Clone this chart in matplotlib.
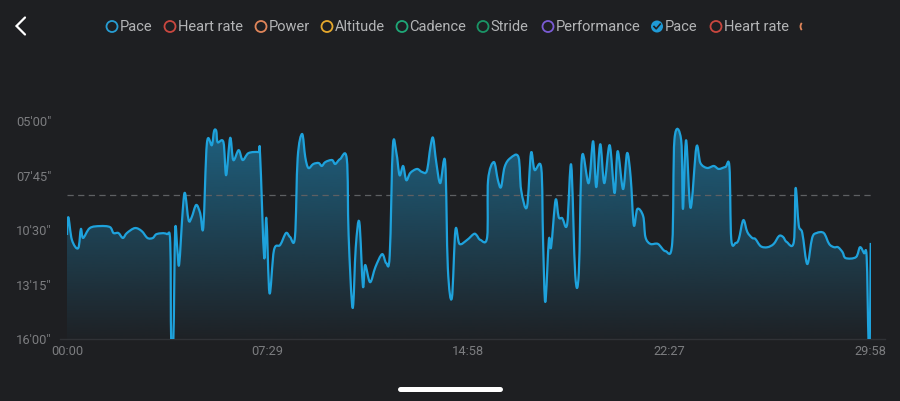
import matplotlib
matplotlib.use("Agg")
import matplotlib.pyplot as plt
import numpy as np
from matplotlib.patches import Circle, Arc, PathPatch
from matplotlib.path import Path

# elapsed time (s) and pace (s per km)
times = [0, 3, 11, 25, 31, 36, 51, 74, 96, 104,
         115, 125, 134, 152, 167, 180, 192, 201, 223, 231,
         233, 238, 242, 247, 251, 259, 264, 272, 279, 289,
         298, 305, 313, 324, 329, 334, 337, 350, 356, 365,
         372, 384, 393, 406, 428, 432, 441, 446, 453, 463,
         477, 490, 499, 510, 516, 526, 533, 540, 551, 563,
         570, 578, 593, 600, 611, 626, 630, 639, 646, 654,
         662, 667, 678, 690, 705, 714, 722, 729, 737, 744,
         752, 759, 768, 783, 794, 805, 813, 819, 826, 835,
         846, 852, 861, 869, 878, 895, 910, 916, 925, 940,
         942, 955, 964, 971, 979, 992, 1010, 1016, 1029, 1038,
         1046, 1061, 1065, 1070, 1078, 1083, 1093, 1100, 1108, 1119,
         1128, 1137, 1145, 1152, 1167, 1177, 1184, 1193, 1202, 1214,
         1225, 1232, 1244, 1253, 1261, 1268, 1276, 1289, 1294, 1305,
         1322, 1339, 1354, 1359, 1374, 1378, 1385, 1395, 1408, 1417,
         1432, 1447, 1458, 1473, 1482, 1486, 1496, 1503, 1513, 1522,
         1533, 1540, 1552, 1567, 1581, 1593, 1602, 1610, 1626, 1630,
         1637, 1645, 1656, 1667, 1677, 1693, 1705, 1716, 1725, 1735,
         1742, 1765, 1774, 1783, 1789, 1793, 1796, 1798]
paces = [645, 591, 660, 685, 627, 654, 624, 618, 621, 639,
         639, 654, 639, 624, 633, 654, 654, 642, 642, 669,
         960, 960, 630, 691, 733, 569, 518, 600, 591, 554,
         579, 621, 367, 373, 330, 330, 364, 364, 464, 351,
         418, 388, 418, 397, 394, 403, 712, 594, 821, 691,
         675, 639, 651, 651, 412, 339, 409, 442, 430, 427,
         436, 424, 418, 430, 415, 415, 645, 866, 682, 606,
         800, 736, 788, 742, 703, 730, 706, 376, 397, 464,
         436, 479, 457, 445, 454, 451, 379, 351, 424, 488,
         424, 745, 836, 630, 672, 660, 642, 645, 660, 651,
         479, 424, 479, 500, 439, 412, 409, 509, 560, 397,
         448, 442, 660, 848, 660, 682, 539, 591, 594, 612,
         433, 766, 760, 409, 488, 361, 500, 370, 488, 373,
         518, 391, 506, 397, 470, 615, 566, 588, 651, 672,
         672, 694, 669, 355, 358, 566, 358, 563, 379, 427,
         442, 436, 445, 439, 439, 657, 669, 657, 600, 636,
         654, 657, 679, 682, 672, 648, 651, 666, 666, 503,
         615, 639, 733, 654, 639, 639, 672, 682, 682, 697,
         715, 712, 682, 700, 712, 960, 960, 669]
avg_pace = 524

x_ticks = [0, 449, 898, 1347, 1798]
x_labels = ["00:00", "07:29", "14:58", "22:27", "29:58"]
y_ticks = [300, 465, 630, 795, 960]
y_labels = ["05'00\"", "07'45\"", "10'30\"", "13'15\"", "16'00\""]

legend_names = ["Pace", "Heart rate", "Power", "Altitude", "Cadence", "Stride",
                "Performance", "Pace", "Heart rate"]
legend_colors = ["#279dd3", "#c9473f", "#e0855a", "#e6a82c", "#1fa878", "#1a9466",
                 "#7a5bd4", "#1f9ad6", "#c9473f"]

BG = "#1e1f22"
LINE = "#1ea2dc"


def smooth_path(xs, ys):
    # catmull-rom through the points, written as cubic bezier segments
    pts = np.column_stack([xs, ys]).astype(float)
    n = len(pts)
    verts = [pts[0]]
    codes = [Path.MOVETO]
    for i in range(n - 1):
        p0 = pts[max(i - 1, 0)]
        p1 = pts[i]
        p2 = pts[i + 1]
        p3 = pts[min(i + 2, n - 1)]
        c1 = p1 + (p2 - p0) / 6.0
        c2 = p2 - (p3 - p1) / 6.0
        verts += [c1, c2, p2]
        codes += [Path.CURVE4] * 3
    return verts, codes


plt.rcParams['font.family'] = ['Roboto', 'DejaVu Sans']

fig = plt.figure(figsize=(9, 4.01), dpi=100, facecolor=BG)
ax = fig.add_axes([67 / 900, 62 / 401, (870.7 - 67) / 900, 244 / 401])
ax.set_facecolor(BG)
ax.set_xlim(0, 1798)
ax.set_ylim(960, 221)
for s in ax.spines.values():
    s.set_visible(False)

verts, codes = smooth_path(times, paces)

# gradient under the curve
grad = np.zeros((256, 1, 4))
r, g, b = matplotlib.colors.to_rgb(LINE)
grad[:, 0, 0] = r
grad[:, 0, 1] = g
grad[:, 0, 2] = b
grad[:, 0, 3] = np.linspace(0.58, 0.02, 256)
area = Path(verts + [(times[-1], 960), (times[0], 960), verts[0]],
            codes + [Path.LINETO, Path.LINETO, Path.CLOSEPOLY])
area_patch = PathPatch(area, facecolor='none', edgecolor='none')
ax.add_patch(area_patch)
im = ax.imshow(grad, extent=[0, 1798, 960, 221], aspect='auto', origin='upper', zorder=1)
im.set_clip_path(area_patch)

ax.add_patch(PathPatch(Path(verts, codes), facecolor='none', edgecolor=LINE,
                       lw=1.6, joinstyle='round', zorder=3))
ax.axhline(avg_pace, color='#5e6063', lw=0.9, dashes=(5, 3.5), zorder=2)
ax.plot([-16, 1830], [960, 960], color='#303236', lw=1, clip_on=False, zorder=2)

ax.set_xticks(x_ticks)
ax.set_xticklabels(x_labels)
ax.set_yticks(y_ticks)
ax.set_yticklabels(y_labels)
ax.tick_params(length=0, colors='#7c7d80', labelsize=9.3)
ax.tick_params(axis='y', pad=11)
ax.tick_params(axis='x', pad=4)

# top bar with series toggles
top = fig.add_axes([0, 0, 1, 1], facecolor='none')
top.set_xlim(0, 900)
top.set_ylim(401, 0)
top.axis('off')

top.plot([25, 16.5, 25], [17.5, 26, 34.5], color='white', lw=1.6,
         solid_capstyle='round', solid_joinstyle='miter')

circle_x = [112, 170, 261, 327, 402, 483, 548, 657, 716]
for i in range(len(legend_names)):
    cx = circle_x[i]
    if i == 7:
        top.add_patch(Circle((cx, 26.5), 6, facecolor=legend_colors[i], edgecolor='none'))
        top.plot([cx - 3, cx - 0.8, cx + 3.2], [26.5, 28.8, 24.1], color=BG, lw=1.2)
    else:
        top.add_patch(Circle((cx, 26.5), 5.5, fill=False, edgecolor=legend_colors[i], lw=1.3))
    top.text(cx + 7.5, 27, legend_names[i], color='#b3b4b6', fontsize=10.5,
             ha='left', va='center')
top.add_patch(Arc((806, 26.5), 11, 11, theta1=140, theta2=220, color="#e0855a", lw=1.3))

top.plot([400, 500], [388.5, 388.5], color='white', lw=3.6, solid_capstyle='round')

fig.savefig("out.png", dpi=100, facecolor=BG)
